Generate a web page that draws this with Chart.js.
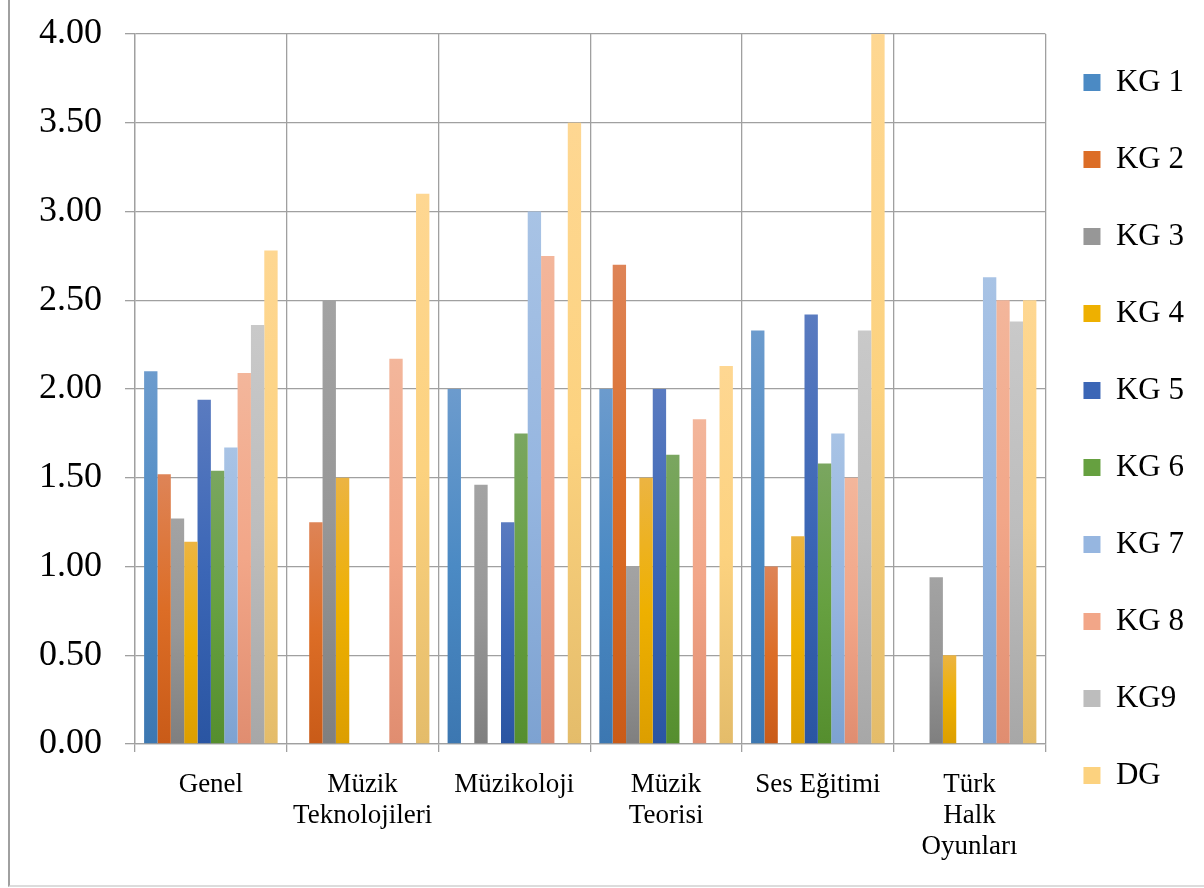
<!DOCTYPE html>
<html><head><meta charset="utf-8">
<script src="https://cdn.jsdelivr.net/npm/chart.js@4"></script>
<style>
html,body{margin:0;padding:0;background:#fff;}
#wrap{position:relative;width:1204px;height:888px;overflow:hidden;}
#frame{position:absolute;left:8px;top:-4px;width:1300px;height:891px;border-left:2px solid #a0a0a0;border-bottom:2px solid #dcdcdc;box-sizing:border-box;pointer-events:none;}
canvas{position:absolute;left:0;top:0;}
</style></head>
<body><div id="wrap"><canvas id="c" width="1204" height="888"></canvas><div id="frame"></div></div>
<script>
// ---- data ----
const categories = ['Genel', ['Müzik','Teknolojileri'], 'Müzikoloji', ['Müzik','Teorisi'], 'Ses Eğitimi', ['Türk','Halk','Oyunları']];
const seriesNames = ['KG 1','KG 2','KG 3','KG 4','KG 5','KG 6','KG 7','KG 8','KG9','DG'];
const KG1 = [2.10, null, 2.00, 2.00, 2.33, null];
const KG2 = [1.52, 1.25, null, 2.70, 1.00, null];
const KG3 = [1.27, 2.50, 1.46, 1.00, null, 0.94];
const KG4 = [1.14, 1.50, null, 1.50, 1.17, 0.50];
const KG5 = [1.94, null, 1.25, 2.00, 2.42, null];
const KG6 = [1.54, null, 1.75, 1.63, 1.58, null];
const KG7 = [1.67, null, 3.00, null, 1.75, 2.63];
const KG8 = [2.09, 2.17, 2.75, 1.83, 1.50, 2.50];
const KG9 = [2.36, null, null, null, 2.33, 2.38];
const DG  = [2.78, 3.10, 3.50, 2.13, 4.00, 2.50];
const seriesValues = [KG1, KG2, KG3, KG4, KG5, KG6, KG7, KG8, KG9, DG];
const yTicks = [0, 0.5, 1, 1.5, 2, 2.5, 3, 3.5, 4];

// ---- styles ----
const TOP = ['#6c9bcd','#de8457','#a3a3a3','#ecb442','#5a7bc0','#7aa660','#a8c3e5','#f3b69b','#c9c9c9','#fed792'];
const MID = ['#4b8ac4','#dc6d26','#979797','#eeb000','#3b66b6','#66a040','#96b6e0','#f2a688','#bdbdbd','#fcd27f'];
const BOT = ['#3c77b1','#c95b18','#7f7f7f','#dc9e00','#2a55a2','#558e2e','#7da2d1','#e08d70','#a7a7a7','#e4bc6a'];
const FONT = "'Liberation Serif', 'Times New Roman', serif";
const GRID = '#a0a0a0';

function grad(i) {
  return function(ctx) {
    const chart = ctx.chart;
    const v = ctx.raw;
    if (ctx.type !== 'data' || v == null || !chart.chartArea || !chart.scales.y) return MID[i];
    const ys = chart.scales.y;
    const y0 = ys.getPixelForValue(v), y1 = ys.getPixelForValue(0);
    if (!isFinite(y0) || !isFinite(y1) || y1 - y0 < 1) return MID[i];
    const g = chart.ctx.createLinearGradient(0, y0, 0, y1);
    g.addColorStop(0, TOP[i]); g.addColorStop(0.5, MID[i]); g.addColorStop(1, BOT[i]);
    return g;
  };
}

const datasets = seriesNames.map((name, i) => ({
  label: name,
  data: seriesValues[i],
  backgroundColor: grad(i),
  borderWidth: 0,
  barPercentage: 1.0,
  categoryPercentage: 0.88
}));

new Chart(document.getElementById('c'), {
  type: 'bar',
  data: { labels: categories, datasets },
  options: {
    responsive: false,
    animation: false,
    devicePixelRatio: 1,
    layout: { padding: { top: 29, bottom: 20, left: 0, right: 10 } },
    plugins: {
      tooltip: { enabled: false },
      legend: {
        position: 'right',
        align: 'start',
        labels: {
          boxWidth: 17, boxHeight: 17, padding: 38, color: '#000',
          font: { family: FONT, size: 31, lineHeight: '39px' },
          generateLabels(chart) {
            const items = Chart.defaults.plugins.legend.labels.generateLabels(chart);
            items.forEach((it, i) => {
              it.fillStyle = MID[i]; it.strokeStyle = MID[i]; it.lineWidth = 0;
              it.text = [it.text];
            });
            return items;
          }
        }
      }
    },
    scales: {
      x: {
        grid: { offset: true, color: GRID, lineWidth: 1.3, tickLength: 8 },
        border: { color: GRID, width: 1.3 },
        ticks: { font: { family: FONT, size: 27, lineHeight: 1.16 }, color: '#000', padding: 17, maxRotation: 0, autoSkip: false },
        afterFit(s) { s.height = 124; }
      },
      y: {
        min: 0, max: 4,
        afterBuildTicks(s) { s.ticks = yTicks.map(v => ({ value: v })); },
        ticks: { font: { family: FONT, size: 36 }, color: '#000', padding: 23, callback: v => Number(v).toFixed(2) },
        grid: { color: GRID, lineWidth: 1.3, tickLength: 10 },
        border: { color: GRID, width: 1.3 },
        afterFit(s) { s.width = 135; s.paddingTop = 34; s.paddingBottom = 0; }
      }
    }
  }
});
</script>
</body></html>
